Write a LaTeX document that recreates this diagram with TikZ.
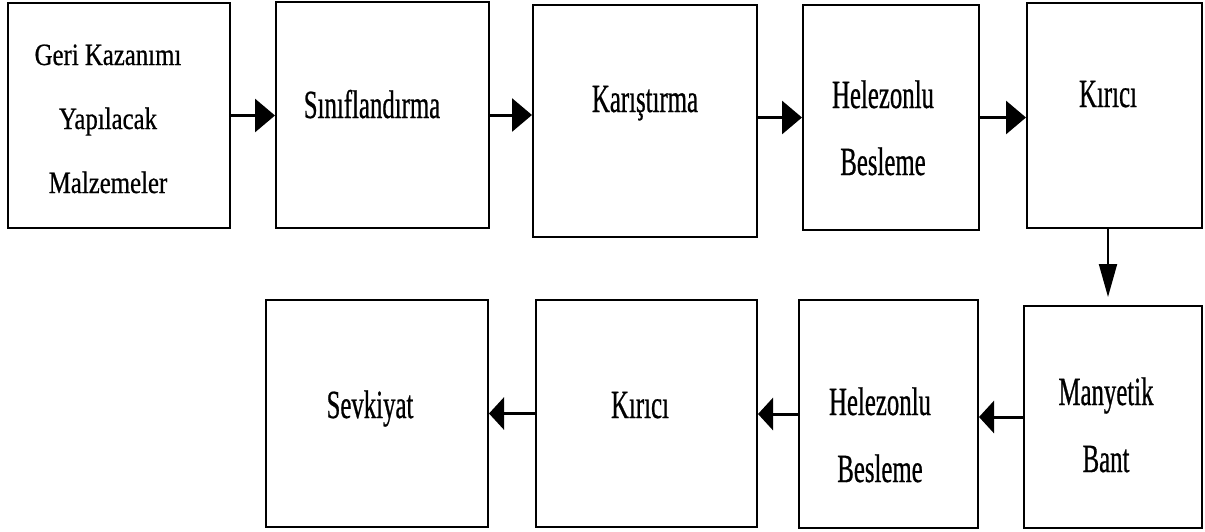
\documentclass[tikz,border=0pt]{standalone}
\usepackage{fontspec}
\setmainfont{Liberation Serif}
\newfontfamily\boxfont[FakeStretch=0.62,FakeBold=0.6]{Liberation Serif}
\newfontfamily\tallfont[FakeStretch=0.8,FakeBold=0.6]{Liberation Serif}
\usetikzlibrary{arrows.meta}
\begin{document}
\begin{tikzpicture}[x=0.5pt,y=-0.5pt,every node/.style={inner sep=0pt}]
\tikzstyle{box}=[draw,line width=1pt]
\tikzstyle{lbl}=[anchor=base,align=center,font=\boxfont\fontsize{20}{33.5}\selectfont]
\tikzstyle{arrow}=[draw,line width=1.5pt,-{Triangle[length=10pt,width=16.5pt]}]
\tikzstyle{backarrow}=[draw,line width=1.5pt,-{Triangle[length=7.5pt,width=16pt]}]
\tikzstyle{downarrow}=[draw,line width=1pt,-{Triangle[length=16.5pt,width=9pt]}]
\useasboundingbox(0,0)rectangle(1205,531);

% upper row
\node[box,minimum width=111pt,minimum height=112.5pt](b1) at (119,115.5){};
\node[box,minimum width=106.5pt,minimum height=113pt](b2) at (382.5,115){};
\node[box,minimum width=112pt,minimum height=116pt](b3) at (645,121){};
\node[box,minimum width=88pt,minimum height=112.5pt](b4) at (891,117.5){};
\node[box,minimum width=87.5pt,minimum height=112.5pt](b5) at (1114.5,115.5){};

% lower row
\node[box,minimum width=89pt,minimum height=111pt](b6) at (1113,417){};
\node[box,minimum width=89.5pt,minimum height=114pt](b7) at (888.5,414){};
\node[box,minimum width=110.5pt,minimum height=113.5pt](b8) at (646.5,413.5){};
\node[box,minimum width=111pt,minimum height=113.5pt](b9) at (377,413.5){};

% labels (base = last line)
\node[lbl,font=\tallfont\fontsize{15.5}{32}\selectfont](t1) at (108,193){Geri Kazanımı\\Yapılacak\\Malzemeler};
\node[lbl](t2) at (372,118){Sınıflandırma};
\node[lbl](t3) at (645,112){Karıştırma};
\node[lbl](t4) at (883,175){Helezonlu\\Besleme};
\node[lbl](t5) at (1108,107){Kırıcı};
\node[lbl](t6) at (1106,472){Manyetik\\Bant};
\node[lbl](t7) at (880,482){Helezonlu\\Besleme};
\node[lbl](t8) at (640,418){Kırıcı};
\node[lbl](t9) at (370,418){Sevkiyat};

\path[arrow](b1.east)--(b1.east-|b2.west);
\path[arrow](b2.east)--(b2.east-|b3.west);
\path[arrow](b3.east|-b4.west)--(b4.west);
\path[arrow](b4.east)--(b4.east-|b5.west);
\path[downarrow,shorten >=4pt]([xshift=-3.25pt]b5.south)--([xshift=-3.25pt]b5.south|-b6.north);
\path[backarrow](b6.west)--(b6.west-|b7.east);
\path[backarrow](b7.west)--(b7.west-|b8.east);
\path[backarrow](b8.west)--(b8.west-|b9.east);
\end{tikzpicture}
\end{document}
